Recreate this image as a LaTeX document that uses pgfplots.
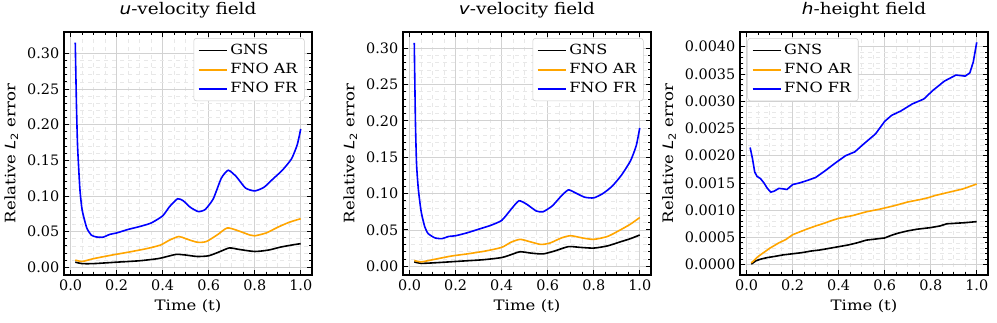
\documentclass[border=0pt]{standalone}
\usepackage{fontspec}
\setmainfont[FakeStretch=1.15]{DejaVu Serif}
\newfontfamily\tickfont{DejaVu Serif}
\newfontfamily\dvs[FakeStretch=1.15]{DejaVu Sans}
\usepackage{pgfplots}
\pgfplotsset{compat=1.18}
\definecolor{mplorange}{RGB}{255,165,0}
\definecolor{mplblue}{RGB}{0,0,255}

\newcommand{\Ltwo}{{\dvs\itshape L}\raisebox{-0.35ex}{\fontsize{7.5}{8}\selectfont\dvs 2}}

\pgfplotsset{
  panel/.style={
    scale only axis, width=186pt, height=182.25pt,
    anchor=south west,
    xmin=-0.029, xmax=1.049,
    xtick={0,0.2,0.4,0.6,0.8,1.0},
    xticklabels={0.0,0.2,0.4,0.6,0.8,1.0},
    minor x tick num=3, minor y tick num=4,
    tick align=inside,
    major tick length=3.5pt, minor tick length=2pt,
    every tick/.style={black, line width=0.6pt},
    axis line style={line width=0.8pt},
    grid=both,
    major grid style={gray!35, line width=0.5pt},
    minor grid style={gray!18, dashed, line width=0.4pt},
    tick label style={font=\tickfont\fontsize{10.8}{12}\selectfont},
    scaled y ticks=false,
    label style={font=\fontsize{10.8}{12}\selectfont},
    title style={font=\fontsize{12}{14}\selectfont, at={(0.5,1)}, anchor=south, yshift=1pt},
    xlabel={Time (t)},
    ylabel={Relative \Ltwo{} error},
    legend cell align=left,
    legend style={font=\fontsize{10.5}{11.5}\selectfont, draw=gray!40, rounded corners=2pt,
      fill=white, row sep=1pt, inner xsep=3pt, inner ysep=2.5pt},
    legend image code/.code={\draw[#1, line width=1.4pt] (0pt,0pt) -- (21pt,0pt);},
    every axis plot/.append style={line width=1.2pt},
  },
}

\begin{document}
\begin{tikzpicture}

% ---------- u-velocity ----------
\begin{axis}[panel, at={(48pt,35.25pt)},
  title={{\dvs\itshape u}-velocity field},
  ymin=-0.011, ymax=0.330,
  ytick={0,0.05,0.10,0.15,0.20,0.25,0.30},
  yticklabels={0.00,0.05,0.10,0.15,0.20,0.25,0.30},
  legend style={at={(0.97,0.975)}, anchor=north east}]
\addplot[black, smooth, tension=0.4] coordinates {
(0.02,0.007)(0.05,0.005)(0.10,0.005)(0.20,0.007)(0.30,0.009)(0.38,0.012)(0.42,0.015)
(0.46,0.018)(0.50,0.017)(0.55,0.015)(0.60,0.016)(0.65,0.022)(0.69,0.027)(0.73,0.025)
(0.80,0.022)(0.86,0.024)(0.91,0.028)(0.96,0.031)(1.00,0.033)};
\addplot[mplorange, smooth, tension=0.4] coordinates {
(0.02,0.010)(0.05,0.008)(0.10,0.012)(0.18,0.017)(0.25,0.021)(0.33,0.026)(0.39,0.031)
(0.43,0.038)(0.47,0.043)(0.50,0.040)(0.55,0.035)(0.59,0.036)(0.64,0.046)(0.68,0.055)
(0.72,0.052)(0.78,0.045)(0.80,0.044)(0.85,0.048)(0.90,0.056)(0.95,0.063)(1.00,0.068)};
\addplot[mplblue, smooth, tension=0.35] coordinates {
(0.020,0.315)(0.025,0.230)(0.030,0.170)(0.040,0.110)(0.050,0.080)(0.070,0.055)(0.090,0.045)
(0.110,0.0425)(0.140,0.042)(0.170,0.046)(0.200,0.048)(0.250,0.053)(0.300,0.057)(0.350,0.062)
(0.400,0.072)(0.430,0.085)(0.465,0.096)(0.490,0.093)(0.520,0.084)(0.555,0.078)(0.585,0.081)
(0.620,0.096)(0.655,0.125)(0.685,0.136)(0.720,0.127)(0.760,0.111)(0.800,0.107)(0.840,0.112)
(0.880,0.124)(0.920,0.136)(0.960,0.152)(0.985,0.172)(1.000,0.194)};
\legend{GNS, FNO AR, FNO FR}
\end{axis}

% ---------- v-velocity ----------
\begin{axis}[panel, at={(302.25pt,35.25pt)},
  title={{\dvs\itshape v}-velocity field},
  ymin=-0.012, ymax=0.322,
  ytick={0,0.05,0.10,0.15,0.20,0.25,0.30},
  yticklabels={0.00,0.05,0.10,0.15,0.20,0.25,0.30},
  legend style={at={(0.97,0.975)}, anchor=north east}]
\addplot[black, smooth, tension=0.4] coordinates {
(0.02,0.006)(0.05,0.004)(0.12,0.005)(0.22,0.007)(0.32,0.009)(0.40,0.012)(0.45,0.017)
(0.48,0.020)(0.53,0.018)(0.58,0.017)(0.63,0.021)(0.69,0.027)(0.74,0.026)(0.80,0.025)
(0.86,0.028)(0.91,0.033)(0.96,0.038)(1.00,0.043)};
\addplot[mplorange, smooth, tension=0.4] coordinates {
(0.02,0.008)(0.05,0.006)(0.10,0.009)(0.18,0.014)(0.25,0.017)(0.33,0.021)(0.40,0.026)
(0.44,0.033)(0.48,0.037)(0.52,0.034)(0.57,0.030)(0.61,0.032)(0.66,0.039)(0.70,0.042)
(0.75,0.039)(0.80,0.037)(0.86,0.041)(0.91,0.049)(0.96,0.058)(1.00,0.067)};
\addplot[mplblue, smooth, tension=0.35] coordinates {
(0.020,0.307)(0.025,0.200)(0.030,0.140)(0.038,0.105)(0.050,0.075)(0.065,0.055)(0.080,0.045)
(0.110,0.039)(0.140,0.038)(0.170,0.041)(0.200,0.042)(0.250,0.046)(0.300,0.051)(0.350,0.056)
(0.400,0.063)(0.440,0.078)(0.475,0.090)(0.510,0.085)(0.550,0.076)(0.580,0.075)(0.620,0.083)
(0.660,0.097)(0.690,0.105)(0.720,0.101)(0.760,0.095)(0.800,0.094)(0.840,0.100)(0.880,0.110)
(0.920,0.125)(0.960,0.145)(0.985,0.166)(1.000,0.190)};
\legend{GNS, FNO AR, FNO FR}
\end{axis}

% ---------- h-height ----------
\begin{axis}[panel, at={(555pt,35.25pt)},
  title={{\dvs\itshape h}-height field},
  ymin=-0.00019, ymax=0.00427,
  ytick={0,0.0005,0.0010,0.0015,0.0020,0.0025,0.0030,0.0035,0.0040},
  yticklabels={0.0000,0.0005,0.0010,0.0015,0.0020,0.0025,0.0030,0.0035,0.0040},
  legend style={at={(0.03,0.975)}, anchor=north west}]
\addplot[black] coordinates {
(0.02,0.00001)(0.04,0.00007)(0.06,0.00010)(0.09,0.00013)(0.12,0.00015)(0.16,0.00018)
(0.20,0.00020)(0.24,0.00022)(0.28,0.00025)(0.32,0.00027)(0.36,0.00030)(0.40,0.00033)
(0.44,0.00036)(0.48,0.00040)(0.52,0.00045)(0.56,0.00047)(0.60,0.00049)(0.63,0.00054)
(0.66,0.00058)(0.70,0.00062)(0.74,0.00065)(0.80,0.00068)(0.84,0.00071)(0.87,0.00075)
(0.91,0.00076)(0.95,0.00077)(1.00,0.00079)};
\addplot[mplorange] coordinates {
(0.02,0.00003)(0.05,0.00015)(0.08,0.00024)(0.10,0.00030)(0.14,0.00040)(0.17,0.00046)
(0.20,0.00055)(0.23,0.00060)(0.26,0.00065)(0.30,0.00071)(0.33,0.00075)(0.37,0.00081)
(0.40,0.00085)(0.46,0.00090)(0.52,0.00097)(0.58,0.00102)(0.64,0.00108)(0.70,0.00115)
(0.76,0.00120)(0.79,0.00123)(0.82,0.00127)(0.88,0.00133)(0.94,0.00139)(1.00,0.00148)};
\addplot[mplblue] coordinates {
(0.015,0.00215)(0.025,0.00195)(0.035,0.00170)(0.045,0.00162)(0.060,0.00158)(0.075,0.00150)
(0.090,0.00140)(0.105,0.00133)(0.120,0.00135)(0.140,0.00140)(0.160,0.00139)(0.175,0.00138)
(0.200,0.00147)(0.230,0.00150)(0.260,0.00154)(0.300,0.00160)(0.340,0.00172)(0.390,0.00188)
(0.430,0.00200)(0.470,0.00207)(0.510,0.00222)(0.560,0.00240)(0.600,0.00263)(0.630,0.00274)
(0.670,0.00282)(0.720,0.00295)(0.770,0.00304)(0.810,0.00320)(0.860,0.00337)(0.910,0.00348)
(0.950,0.00346)(0.970,0.00352)(0.985,0.00372)(1.000,0.00408)};
\legend{GNS, FNO AR, FNO FR}
\end{axis}

\pgfresetboundingbox
\path[use as bounding box] (0,0) rectangle (747.75pt,241.5pt);
\end{tikzpicture}
\end{document}
